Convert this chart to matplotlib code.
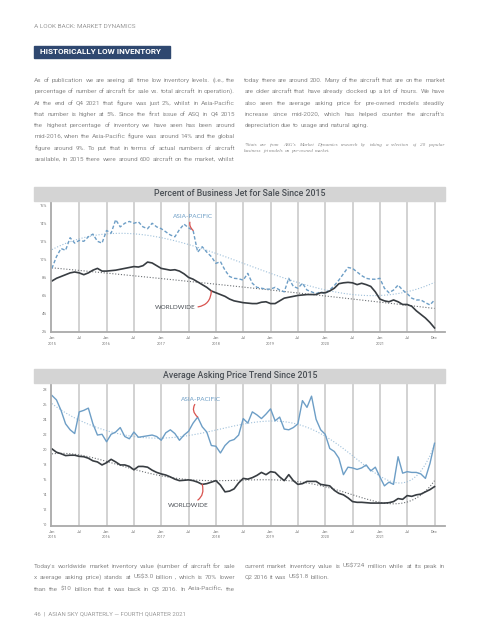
import numpy as np
import matplotlib
matplotlib.use("Agg")
import matplotlib.pyplot as plt

W, H = 480, 640

# ---- data (monthly, Jan 2015 .. Dec 2021, last tick "Dec" sits at index 84) ----
ww_pct = [7.6, 7.9, 8.1, 8.3, 8.5, 8.6, 8.5, 8.3, 8.5, 8.8, 9.0, 8.7,
          8.7, 8.75, 8.8, 8.9, 9.0, 9.1, 9.2, 9.15, 9.3, 9.7, 9.6, 9.3,
          9.0, 8.9, 8.8, 8.85, 8.7, 8.4, 8.0, 7.8, 7.5, 7.2, 6.9, 6.5,
          6.3, 6.1, 5.9, 5.6, 5.4, 5.3, 5.2, 5.15, 5.1, 5.1, 5.25, 5.3,
          5.1, 5.1, 5.4, 5.7, 5.8, 5.9, 6.0, 6.05, 6.1, 6.1, 6.1, 6.3,
          6.3, 6.5, 6.8, 7.3, 7.4, 7.45, 7.4, 7.2, 7.35, 7.2, 7.0, 6.4,
          5.6, 5.4, 5.3, 5.5, 5.3, 5.0, 5.0, 4.8, 4.3, 3.9, 3.5, 3.0, 2.4]
ap_pct = [9.0, 10.3, 11.2, 11.0, 12.4, 11.8, 12.1, 12.0, 12.5, 12.8, 12.0, 11.8,
          13.2, 12.9, 14.4, 13.6, 14.0, 14.2, 14.0, 14.15, 13.6, 13.4, 14.0, 13.6,
          13.4, 13.05, 12.7, 12.5, 13.3, 13.9, 13.5, 13.2, 10.8, 11.4, 10.8, 10.3,
          9.55, 9.75, 8.8, 8.1, 7.9, 7.85, 7.7, 8.45, 7.35, 6.9, 6.8, 6.7,
          6.7, 6.9, 6.6, 6.4, 7.9, 7.0, 6.8, 7.35, 6.6, 6.4, 6.2, 6.4,
          6.2, 6.6, 7.1, 7.7, 8.4, 9.1, 9.0, 8.6, 8.2, 7.9, 7.8, 7.8,
          7.9, 6.8, 6.3, 6.6, 7.15, 6.6, 6.2, 5.7, 5.5, 5.5, 5.2, 4.95, 5.5]

ww_price = [20.05, 19.6, 19.4, 19.15, 19.2, 19.2, 19.05, 19.0, 18.8, 18.45, 18.3, 17.9,
            18.2, 18.65, 18.3, 17.9, 17.9, 17.7, 17.25, 17.7, 17.7, 17.6, 17.2, 16.9,
            16.7, 16.55, 16.3, 16.0, 15.8, 15.85, 15.9, 15.8, 15.6, 15.3, 15.4, 15.6,
            15.8, 15.2, 14.3, 14.4, 14.7, 15.5, 16.1, 16.0, 16.2, 16.5, 16.9, 16.6,
            17.0, 16.9, 16.3, 15.8, 16.6, 15.8, 15.3, 15.4, 15.7, 15.7, 15.7, 15.3,
            15.2, 15.1, 14.5, 14.1, 13.9, 13.5, 13.0, 12.9, 12.9, 12.85, 12.8, 12.8,
            12.8, 12.8, 12.85, 13.0, 13.4, 13.3, 13.8, 13.7, 13.9, 14.0, 14.3, 14.6, 15.0]
ap_price = [27.2, 26.6, 25.2, 23.4, 22.6, 22.1, 25.0, 25.2, 25.5, 23.4, 21.9, 22.0,
            21.0, 22.0, 22.3, 22.9, 21.7, 21.4, 22.3, 21.6, 21.7, 21.8, 21.9, 21.7,
            21.2, 22.2, 22.6, 22.1, 21.2, 21.9, 22.4, 23.5, 24.3, 23.0, 22.3, 20.5,
            20.4, 19.5, 20.5, 21.1, 21.3, 21.9, 24.1, 23.5, 25.0, 24.6, 24.1, 24.7,
            25.4, 23.8, 24.3, 22.7, 22.6, 22.9, 23.4, 26.5, 25.6, 27.1, 24.0, 22.6,
            22.0, 20.1, 19.7, 18.8, 16.6, 17.6, 17.5, 17.3, 17.5, 17.9, 17.1, 17.6,
            16.3, 15.1, 15.6, 15.3, 19.0, 16.8, 17.0, 16.9, 16.9, 16.7, 16.1, 18.1, 20.8]

tick_months = ["Jan", "Jul"] * 7 + ["Dec"]
tick_years = ["2015", "", "2016", "", "2017", "", "2018", "", "2019", "", "2020", "", "2021", "", ""]

pct_ticks = [2, 4, 6, 8, 10, 12, 14, 16]
price_ticks = [10, 12, 14, 16, 18, 20, 22, 24, 26, 28]

left_col = [
    "As of publication we are seeing all time low inventory levels. (i.e., the",
    "percentage of number of aircraft for sale vs. total aircraft in operation).",
    "At the end of Q4 2021 that figure was just 2%, whilst in Asia-Pacific",
    "that number is higher at 5%. Since the first issue of ASQ in Q4 2015",
    "the highest percentage of inventory we have seen has been around",
    "mid-2016, when the Asia-Pacific figure was around 14% and the global",
    "figure around 9%. To put that in terms of actual numbers of aircraft",
    "available, in 2015 there were around 600 aircraft on the market, whilst",
]
right_col = [
    "today there are around 200. Many of the aircraft that are on the market",
    "are older aircraft that have already clocked up a lot of hours. We have",
    "also seen the average asking price for pre-owned models steadily",
    "increase since mid-2020, which has helped counter the aircraft's",
    "depreciation due to usage and natural aging.",
]
footnote = [
    "*Stats are from ASG's Market Dynamics research by taking a selection of 20 popular",
    "business jet models on pre-owned market.",
]
bottom_left = [
    "Today's worldwide market inventory value (number of aircraft for sale",
    "x average asking price) stands at US$3.0 billion , which is 70% lower",
    "than the $10 billion that it was back in Q3 2016. In Asia-Pacific, the",
]
bottom_right = [
    "current market inventory value is US$724 million while at its peak in",
    "Q2 2016 it was US$1.8 billion.",
]

plt.rcParams['font.family'] = ['Roboto', 'DejaVu Sans']

TXT = "#8a8a8a"
WW_C = "#383d42"
AP_C = "#6d9ec6"
RED = "#d9534f"
GRID = "#cfcfcf"
BODY = 4.6

fig = plt.figure(figsize=(4.8, 6.4), dpi=100)
renderer = fig.canvas.get_renderer()


def fx(x):
    return x / W


def fy(y):
    return 1 - y / H


def justify(lines, x0, x1, y0, dy, size, last_left=True, **kw):
    # word by word, so the lines can be set justified like the page
    kw.setdefault('color', TXT)
    for i, line in enumerate(lines):
        # baseline just off the pixel grid so agg's rounding keeps words level
        b = round(y0 + i * dy) - 0.49
        words = line.split()
        ts = [fig.text(0, fy(b), w, fontsize=size, va='baseline', parse_math=False, **kw)
              for w in words]
        prop = ts[0].get_fontproperties()
        widths = [t.get_window_extent(renderer).width for t in ts]
        if (last_left and i == len(lines) - 1) or len(words) < 2:
            w2 = renderer.get_text_width_height_descent("a a", prop, ismath=False)[0]
            w1 = renderer.get_text_width_height_descent("aa", prop, ismath=False)[0]
            gap = w2 - w1
        else:
            gap = (x1 - x0 - sum(widths)) / (len(words) - 1)
        xx = x0
        for t, wd in zip(ts, widths):
            t.set_x(fx(xx))
            xx += wd + gap


# header
fig.text(fx(34), fy(27.5), "A LOOK BACK: MARKET DYNAMICS", fontsize=4.6, color="#9a9a9a", va='baseline')
fig.patches.append(plt.Rectangle((fx(34), fy(57.7)), fx(136), (57.7 - 46.3) / H,
                                 transform=fig.transFigure, color="#2f4870"))
fig.text(fx(40), fy(52), "HISTORICALLY LOW INVENTORY", fontsize=5.9, color="white",
         fontweight='bold', va='center')

justify(left_col, 34.3, 235, 82, 11.3, BODY, last_left=False)
justify(right_col, 244.3, 445, 82, 11.3, BODY)
justify(footnote, 244.3, 445, 146.5, 5.0, 3.7, family='Liberation Serif', style='italic')
justify(bottom_left, 34.3, 235, 568, 11.4, BODY, last_left=False)
justify(bottom_right, 244.3, 445, 568, 11.4, BODY)
fig.text(fx(34), fy(615.5), "46  |  ASIAN SKY QUARTERLY \u2014 FOURTH QUARTER 2021", fontsize=4.3,
         color="#9a9a9a", va='baseline')

x = np.arange(len(ww_pct))


def chart(band_top, band_bot, ax_bot, title, ylim, yticks, fmt, ww, ap, ap_style, deg_ap, deg_ww):
    fig.patches.append(plt.Rectangle((fx(34), fy(band_bot)), fx(411), (band_bot - band_top) / H,
                                     transform=fig.transFigure, color="#d4d4d4"))
    fig.text(fx(240), fy((band_top + band_bot) / 2), title, fontsize=6.3, color="#4a4f55",
             ha='center', va='center', fontweight='medium')
    ax = fig.add_axes([fx(51), fy(ax_bot), fx(394), (ax_bot - band_bot) / H])
    ax.set_xlim(-0.2, 86.3)
    ax.set_ylim(*ylim)
    for s in ['top', 'right']:
        ax.spines[s].set_visible(False)
    for s in ['left', 'bottom']:
        ax.spines[s].set_color("#a9a9a9")
        ax.spines[s].set_linewidth(1.3)
    pos = sorted(set(np.arange(0, 85, 6).tolist() + [84]))
    for p in pos[1:]:
        ax.axvline(p, color=GRID, lw=1.3, zorder=0)
    ax.set_xticks(pos)
    ax.set_xticklabels([m + ("\n" + y if y else "") for m, y in zip(tick_months, tick_years)],
                       fontsize=2.9, color="#777777", linespacing=1.6, va='top')
    ax.set_yticks(yticks)
    ax.set_yticklabels([fmt.format(v) for v in yticks], fontsize=2.9, color="#777777")
    ax.tick_params(length=0, pad=3)

    # trend lines
    ap_fit = np.polyval(np.polyfit(x, ap, deg_ap), x)
    ww_fit = np.polyval(np.polyfit(x, ww, deg_ww), x)
    ax.plot(x, ap_fit, color="#9fc0da", lw=0.8, ls=(0, (1, 1.6)))
    ax.plot(x, ww_fit, color="#6b6f73", lw=0.8, ls=(0, (1, 1.6)))

    ax.plot(x, ap, color=AP_C, lw=1.0, ls=ap_style)
    ax.plot(x, ww, color=WW_C, lw=1.2)
    return ax


ax1 = chart(187.3, 200.7, 332, "Percent of Business Jet for Sale Since 2015", (1.95, 16.5),
            pct_ticks, "{}%", ww_pct, ap_pct, (0, (2.5, 1.5)), 3, 2)
ax2 = chart(369.3, 382.7, 525.5, "Average Asking Price Trend Since 2015", (9.8, 28.9),
            price_ticks, "{}", ww_price, ap_price, '-', 6, 6)

lab_kw = dict(fontsize=4.6, family=['Lato', 'DejaVu Sans'], ha='center', va='center')
arr = dict(arrowstyle='-', color=RED, lw=0.9, shrinkA=0, shrinkB=0)

ax1.annotate("ASIA-PACIFIC", xy=(31, ap_pct[31]), xytext=(31, 14.7), color=AP_C,
             arrowprops=dict(connectionstyle="arc3,rad=0.5", **arr), **lab_kw)
ax1.annotate("WORLDWIDE", xy=(35, ww_pct[35]), xytext=(27, 4.7), color="#4a4f55",
             arrowprops=dict(connectionstyle="arc3,rad=0.45", relpos=(1.0, 0.5), **arr), **lab_kw)
ax2.annotate("ASIA-PACIFIC", xy=(32, ap_price[32]), xytext=(32.7, 26.7), color=AP_C,
             arrowprops=dict(connectionstyle="arc3,rad=0.5", relpos=(0.4, 0.0), **arr), **lab_kw)
ax2.annotate("WORLDWIDE", xy=(33, ww_price[33]), xytext=(30, 12.5), color="#4a4f55",
             arrowprops=dict(connectionstyle="arc3,rad=0.45", relpos=(0.6, 1.0), **arr), **lab_kw)

fig.savefig("out.png", dpi=100)
